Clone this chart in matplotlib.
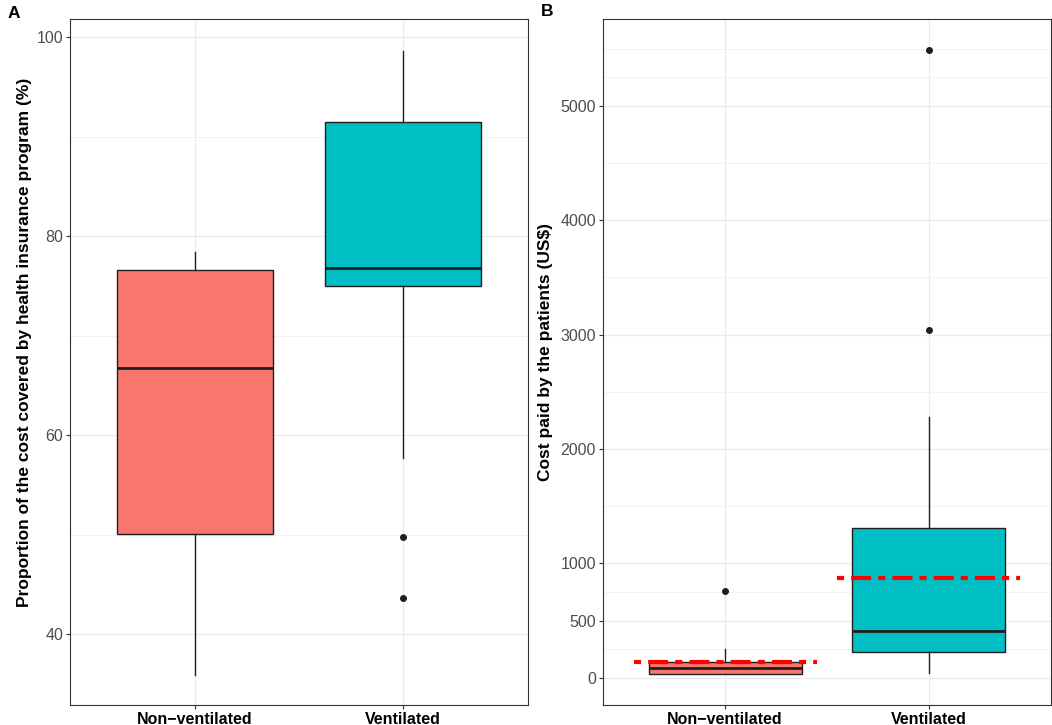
import numpy as np
import matplotlib
matplotlib.use("Agg")
import matplotlib.pyplot as plt
from matplotlib.ticker import FixedLocator

plt.rcParams['font.family'] = ['Liberation Sans', 'DejaVu Sans']

# data
groups = ["Non\u2212ventilated", "Ventilated"]
colors = ["#F8766D", "#00BFC4"]

# panel A: proportion covered by health insurance (%)
a_whislo = [35.9, 57.7]
a_q1 = [50.1, 75.0]
a_med = [66.7, 76.8]
a_q3 = [76.6, 91.5]
a_whishi = [78.4, 98.6]
a_fliers = [[], [49.8, 43.6]]

# panel B: cost paid by the patients (US$)
b_whislo = [30, 38]
b_q1 = [30, 227]
b_med = [85, 411]
b_q3 = [135, 1306]
b_whishi = [250, 2278]
b_fliers = [[760], [3044, 5491]]
b_mean = [140, 874]

a_major = [40, 60, 80, 100]
a_minor = [50, 70, 90]
b_major = [0, 500, 1000, 2000, 3000, 4000, 5000]
b_minor = [250, 750, 1500, 2500, 3500, 4500, 5250, 5500]

edge = "#333333"
boxedge = "#1f1f1f"


def make_stats(lo, q1, med, q3, hi, fl):
    st = []
    for i in range(len(lo)):
        st.append(dict(whislo=lo[i], q1=q1[i], med=med[i], q3=q3[i],
                       whishi=hi[i], fliers=fl[i]))
    return st


def style_axes(ax, major, minor, ylim, ylabel, label_xy):
    ax.set_xlim(0.4, 2.6)
    ax.set_ylim(*ylim)
    ax.yaxis.set_major_locator(FixedLocator(major))
    ax.yaxis.set_minor_locator(FixedLocator(minor))
    ax.set_xticks([1, 2])
    ax.set_xticklabels(groups, fontsize=11.5, fontweight='bold', color='black')
    ax.set_yticklabels([str(v) for v in major], fontsize=11.5, color='#4D4D4D')
    ax.grid(which='major', color='#EBEBEB', lw=0.9)
    ax.grid(which='minor', axis='y', color='#EBEBEB', lw=0.45)
    ax.set_axisbelow(True)
    ax.tick_params(which='major', length=3, width=0.8, color=edge, pad=2)
    ax.tick_params(which='minor', length=0)
    for s in ax.spines.values():
        s.set_color(edge)
        s.set_linewidth(0.8)
    ax.set_ylabel(ylabel, fontsize=12.5, fontweight='bold')
    ax.yaxis.set_label_coords(*label_xy)


def draw_box(ax, stats):
    bp = ax.bxp(stats, positions=[1, 2], widths=0.75, patch_artist=True,
                showcaps=False, manage_ticks=False,
                boxprops=dict(edgecolor=boxedge, linewidth=1.0),
                medianprops=dict(color=boxedge, linewidth=2.0),
                whiskerprops=dict(color=boxedge, linewidth=1.0),
                flierprops=dict(marker='o', markerfacecolor=boxedge,
                                markeredgecolor=boxedge, markersize=4))
    for patch, c in zip(bp['boxes'], colors):
        patch.set_facecolor(c)
    return bp


fig = plt.figure(figsize=(10.52, 7.25), dpi=100)
axA = fig.add_axes([70 / 1052, 20 / 725, 458 / 1052, 686 / 725])
axB = fig.add_axes([603 / 1052, 20 / 725, 448 / 1052, 686 / 725])

draw_box(axA, make_stats(a_whislo, a_q1, a_med, a_q3, a_whishi, a_fliers))
style_axes(axA, a_major, a_minor, (32.87, 101.81),
           "Proportion of the cost covered by health insurance program (%)",
           (-0.083, 0.528))

draw_box(axB, make_stats(b_whislo, b_q1, b_med, b_q3, b_whishi, b_fliers))
style_axes(axB, b_major, b_minor, (-238, 5758),
           "Cost paid by the patients (US$)", (-0.112, 0.514))

# mean lines
for i, m in enumerate(b_mean):
    axB.hlines(m, i + 1 - 0.45, i + 1 + 0.45, colors='red', lw=3,
               linestyles=(0, (1.7, 1.7, 4.8, 1.7)), zorder=5,
               capstyle='butt')

fig.text(8 / 1052, 1 - 13 / 725, "A", fontsize=12.5, fontweight='bold', va='center')
fig.text(541 / 1052, 1 - 12 / 725, "B", fontsize=12.5, fontweight='bold', va='center')

fig.savefig("out.png", dpi=100)
